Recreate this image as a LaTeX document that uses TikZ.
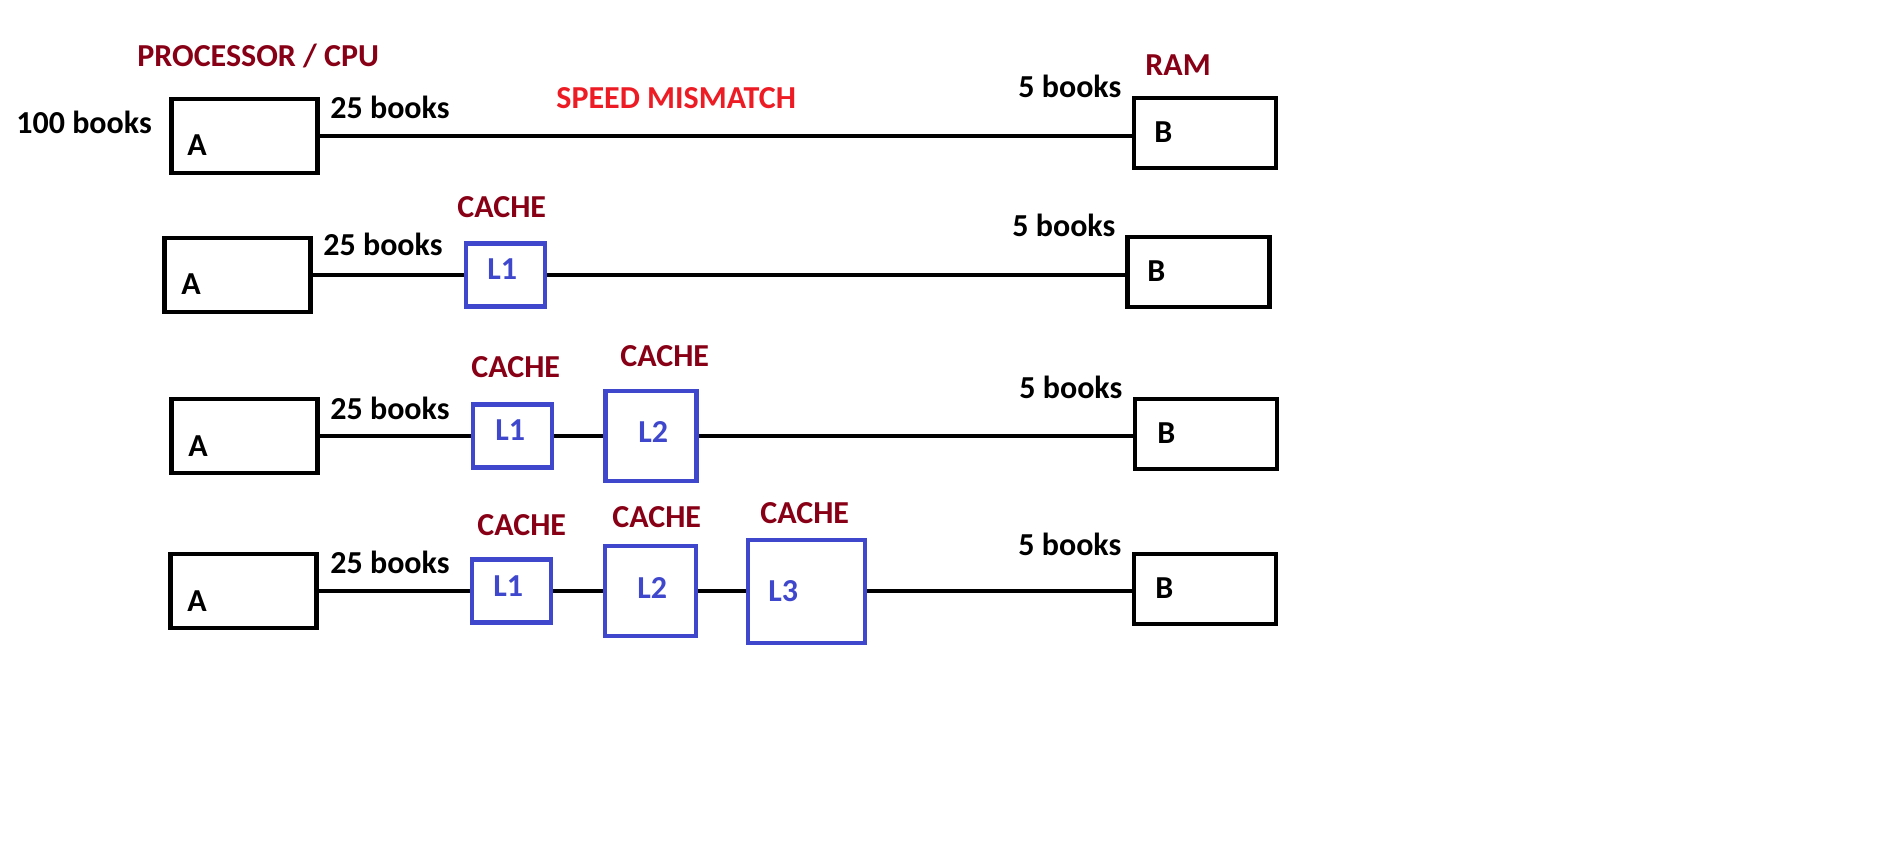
\documentclass[tikz,border=0pt]{standalone}
\usepackage{fontspec}
\setmainfont{Carlito}
\usepackage{tikz}
\usetikzlibrary{positioning}

\definecolor{cachered}{RGB}{136,0,21}
\definecolor{mismatchred}{RGB}{237,28,36}
\definecolor{cacheblue}{RGB}{63,72,204}

\tikzset{
	unit/.style={draw=black,line width=2.3pt,inner sep=0pt,minimum width=73pt,minimum height=37pt},
	ram/.style={draw=black,line width=2.3pt,inner sep=0pt,minimum width=71pt,minimum height=35pt},
	cachebox/.style={draw=cacheblue,line width=2.3pt,inner sep=0pt},
	bus/.style={line width=2.2pt},
	txt/.style={inner sep=0pt,anchor=base west},
	tag/.style={txt,text=cachered},
	lvl/.style={txt,text=cacheblue}
}

\begin{document}
\begin{tikzpicture}[x=0.5pt,y=-0.5pt,font=\bfseries\fontsize{16}{19}\selectfont]
		
		\useasboundingbox (0,0) rectangle (1894,848);
		
		%--- row 1: no cache ---
		\node[unit] (a1) at (244.5,136) {};
		\node[ram]  (b1) at (1205,133) {};
		\draw[bus] (a1.east) -- (a1.east -| b1.west);
		\node[txt] (a1t) at (187,155) {A};
		\node[txt] (b1t) at (1154,142) {B};
		\node[txt] (hundred) at (16,133) {100 books};
		\node[tag] (cpu) at (137,66) {PROCESSOR / CPU};
		\node[tag] (ram) at (1145,75) {RAM};
		\node[txt] (q1) at (330,118) {25 books};
		\node[txt] (r1) at (1018,97) {5 books};
		\node[txt,text=mismatchred] (mismatch) at (556,108) {SPEED MISMATCH};
		
		%--- row 2: L1 ---
		\node[unit] (a2) at (237.5,275) {};
		\node[cachebox,minimum width=39.5pt,minimum height=31.5pt] (c21) at (505.5,275) {};
		\node[ram]  (b2) at (1198.5,272) {};
		\draw[bus] (a2.east) -- (c21.west);
		\draw[bus] (c21.east) -- (c21.east -| b2.west);
		\node[txt] (a2t) at (181,294) {A};
		\node[txt] (b2t) at (1147,281) {B};
		\node[lvl] (l21) at (487,279) {L1};
		\node[tag] (t21) at (457,217) {CACHE};
		\node[txt] (q2) at (323,255) {25 books};
		\node[txt] (r2) at (1012,236) {5 books};
		
		%--- row 3: L1 + L2 ---
		\node[unit] (a3) at (244.5,436) {};
		\node[cachebox,minimum width=39.5pt,minimum height=31.5pt] (c31) at (512.5,436) {};
		\node[cachebox,minimum width=45.5pt,minimum height=45pt] (c32) at (651,436) {};
		\node[ram]  (b3) at (1206,434) {};
		\draw[bus] (a3.east) -- (c31.west);
		\draw[bus] (c31.east) -- (c32.west);
		\draw[bus] (c32.east) -- (c32.east -| b3.west);
		\node[txt] (a3t) at (188,456) {A};
		\node[txt] (b3t) at (1157,443) {B};
		\node[lvl] (l31) at (495,440) {L1};
		\node[lvl] (l32) at (638,442) {L2};
		\node[tag] (t31) at (471,377) {CACHE};
		\node[tag] (t32) at (620,366) {CACHE};
		\node[txt] (q3) at (330,419) {25 books};
		\node[txt] (r3) at (1019,398) {5 books};
		
		%--- row 4: L1 + L2 + L3 ---
		\node[unit] (a4) at (243.5,591) {};
		\node[cachebox,minimum width=39.5pt,minimum height=31.5pt] (c41) at (511.5,591) {};
		\node[cachebox,minimum width=45.5pt,minimum height=45pt] (c42) at (650.5,591) {};
		\node[cachebox,minimum width=58.5pt,minimum height=51.5pt] (c43) at (806.5,591.5) {};
		\node[ram]  (b4) at (1205,589) {};
		\draw[bus] (a4.east) -- (c41.west);
		\draw[bus] (c41.east) -- (c42.west);
		\draw[bus] (c42.east) -- (c42.east -| c43.west);
		\draw[bus] (c43.east |- c42.east) -- (c42.east -| b4.west);
		\node[txt] (a4t) at (187,611) {A};
		\node[txt] (b4t) at (1155,598) {B};
		\node[lvl] (l41) at (493,596) {L1};
		\node[lvl] (l42) at (637,598) {L2};
		\node[lvl] (l43) at (768,601) {L3};
		\node[tag] (t41) at (477,535) {CACHE};
		\node[tag] (t42) at (612,527) {CACHE};
		\node[tag] (t43) at (760,523) {CACHE};
		\node[txt] (q4) at (330,573) {25 books};
		\node[txt] (r4) at (1018,555) {5 books};
		
	\end{tikzpicture}
\end{document}
